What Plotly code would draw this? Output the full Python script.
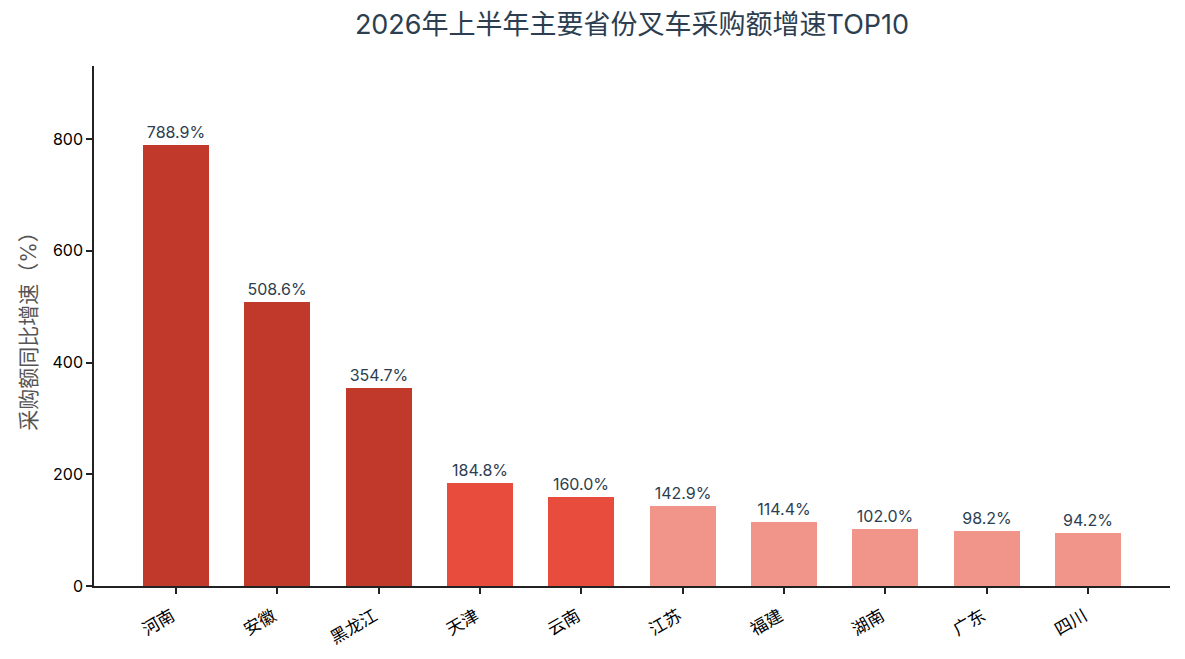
import plotly.graph_objects as go

provinces = ["河南", "安徽", "黑龙江", "天津", "云南", "江苏", "福建", "湖南", "广东", "四川"]
growth = [788.9, 508.6, 354.7, 184.8, 160.0, 142.9, 114.4, 102.0, 98.2, 94.2]
bar_colors = ["#c0392b"] * 3 + ["#e74c3c"] * 2 + ["#f1948a"] * 5

FONT = "Inter, 'Noto Sans CJK SC', sans-serif"

fig = go.Figure()
fig.add_trace(go.Bar(
    x=list(range(len(provinces))),
    y=growth,
    width=0.65,
    marker=dict(color=bar_colors, line=dict(width=0)),
    text=[f"{v:.1f}%" for v in growth],
    textposition="outside",
    cliponaxis=False,
    textfont=dict(size=16, color="#2c3e50", family=FONT),
))

# page body has an 8px margin, so the figure is a bit smaller than the window
fig.update_layout(
    width=1169,
    height=643,
    margin=dict(l=86, r=7, t=58, b=65),
    paper_bgcolor="white",
    plot_bgcolor="white",
    showlegend=False,
    font=dict(family=FONT, color="black"),
    title=dict(
        text="2026年上半年主要省份叉车采购额增速TOP10",
        x=0.5, xref="paper", xanchor="center",
        y=0.974, yanchor="middle",
        font=dict(size=27, color="#2c3e50", family=FONT),
    ),
    bargap=0,
)
fig.update_xaxes(
    tickmode="array",
    tickvals=list(range(len(provinces))),
    ticktext=provinces,
    tickangle=-30,
    range=[-0.8075, 9.8075],
    showline=True, linecolor="#222", linewidth=1.5,
    ticks="outside", ticklen=6, tickwidth=1.5, tickcolor="#222",
    showgrid=False, zeroline=False,
    tickfont=dict(size=17, color="black", family=FONT),
    ticklabelshift=-4,
    ticklabelstandoff=6,
    automargin=False,
)
fig.update_yaxes(
    range=[0, 931],
    tickvals=[0, 200, 400, 600, 800],
    showline=True, linecolor="#222", linewidth=1.5,
    ticks="outside", ticklen=6, tickwidth=1.5, tickcolor="#222",
    showgrid=False, zeroline=False,
    tickfont=dict(size=16, color="black", family=FONT),
    title=dict(text="采购额同比增速（%）", font=dict(size=21, color="#555555", family=FONT), standoff=10),
)

fig.write_html("out.html")
